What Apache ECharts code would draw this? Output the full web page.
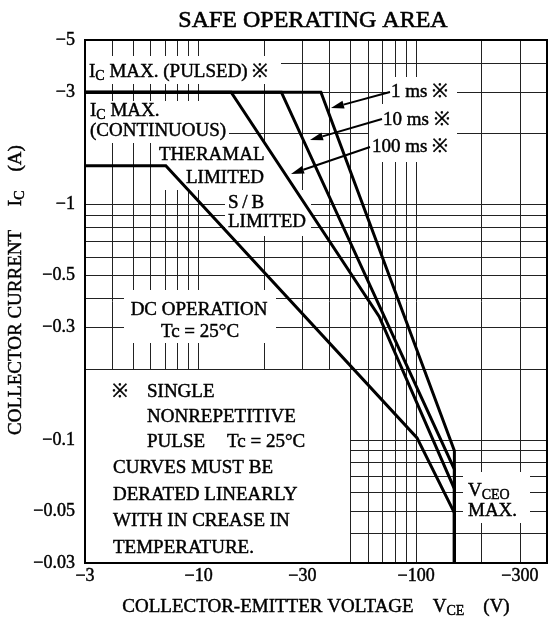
<!DOCTYPE html>
<html><head><meta charset="utf-8">
<script src="https://cdn.jsdelivr.net/npm/echarts@6/dist/echarts.min.js"></script>
<style>html,body{margin:0;padding:0;background:#fff}#c{width:549px;height:629px}</style>
</head><body><div id="c"></div>
<script>
// ---- data (VCE in volts, IC in amperes, magnitudes) ----
const xGridValues = [3,4,5,6,7,8,9,10,20,30,40,50,60,70,80,90,100,200,300,400];
const yGridValues = [0.03,0.04,0.05,0.06,0.07,0.08,0.09,0.1,0.2,0.3,0.4,0.5,0.6,0.7,0.8,0.9,1,2,3,4,5];
const xTickLabels = [3,10,30,100,300];
const yTickLabels = [0.03,0.05,0.1,0.3,0.5,1,3,5];

const vce1ms   = [3, 36.5, 150, 150];
const ic1ms    = [3, 3, 0.09, 0.03];
const vce10ms  = [3, 24, 150, 150];
const ic10ms   = [3, 3, 0.075, 0.03];
const vce100ms = [3, 14.1, 67.7, 150, 150];
const ic100ms  = [3, 3, 0.334, 0.062, 0.03];
const vceDC    = [3, 7.06, 101, 150, 150];
const icDC     = [1.46, 1.46, 0.102, 0.049, 0.03];

const F = '"Liberation Serif", "Times New Roman", serif';
const pairs = (xs, ys) => xs.map((v, i) => [v, ys[i]]);

const chart = echarts.init(document.getElementById('c'), null, {renderer: 'canvas'});

const SW = 0.45;
const R = {
  m: {fontSize: 19, fontFamily: F, fill: '#000', stroke: '#000', lineWidth: SW},
  s: {fontSize: 14, fontFamily: F, fill: '#000', stroke: '#000', lineWidth: SW, padding: [8, 0, 0, 0]}
};
function T(x, y, text, opt) {
  opt = opt || {};
  return {
    type: 'text', x: x, y: y, z: 3, silent: true, rotation: opt.rotation || 0,
    style: {
      text: text, fontSize: opt.size || 19, fontFamily: F, fill: '#000',
      stroke: '#000', lineWidth: opt.sw || SW,
      align: opt.align || 'left', verticalAlign: 'middle', rich: R
    }
  };
}
function M(x, y, w, h) {
  return {type: 'rect', z: 1, silent: true, shape: {x: x, y: y, width: w, height: h}, style: {fill: '#fff'}};
}
function A(x1, y1, x2, y2) {
  const dx = x2 - x1, dy = y2 - y1, d = Math.sqrt(dx * dx + dy * dy);
  const ux = dx / d, uy = dy / d, L = 13, W = 4;
  const bx = x2 - ux * L, by = y2 - uy * L;
  return [
    {type: 'line', z: 3, silent: true, shape: {x1: x1, y1: y1, x2: bx, y2: by}, style: {stroke: '#000', lineWidth: 2}},
    {type: 'polygon', z: 3, silent: true, shape: {points: [[x2, y2], [bx - uy * W, by + ux * W], [bx + uy * W, by - ux * W]]}, style: {fill: '#000'}}
  ];
}

const G = {left: 85, top: 40, width: 462, height: 523};

const graphics = [
  // white label backgrounds (hide grid lines behind annotations)
  M(85, 56, 196, 28),
  M(85, 101, 144, 42),
  M(155, 141, 112, 49),
  M(225, 190, 86, 46),
  M(389, 77, 68, 27),
  M(381, 104, 76, 27),
  M(369, 131, 88, 31),
  M(124, 290, 152, 53),
  M(85, 370, 265, 193),
  M(463, 472, 67, 51),
  // frame
  {type: 'rect', z: 4, silent: true, shape: {x: G.left, y: G.top, width: G.width, height: G.height},
   style: {fill: null, stroke: '#000', lineWidth: 2}},
  // title
  T(313, 21, 'SAFE OPERATING AREA', {size: 24, align: 'center', sw: 0.6}),
  // axis names
  T(316, 607, '{m|COLLECTOR-EMITTER VOLTAGE    V}{s|CE}{m|    (V)}', {align: 'center'}),
  T(16, 290, '{m|COLLECTOR CURRENT     I}{s|C}{m|    (A)}', {align: 'center', rotation: Math.PI / 2}),
  // annotations
  T(89, 72, '{m|I}{s|C}{m| MAX. (PULSED) ※}'),
  T(90, 111, '{m|I}{s|C}{m| MAX.}'),
  T(90, 131.5, '(CONTINUOUS)'),
  T(159, 155, 'THERAMAL'),
  T(186, 178, 'LIMITED'),
  T(228, 203, 'S\u2009/\u2009B'),
  T(228, 222, 'LIMITED'),
  T(391, 92, '1 ms ※'),
  T(383, 120, '10 ms ※'),
  T(372, 147, '100 ms ※'),
  T(199, 310, 'DC OPERATION', {align: 'center'}),
  T(200, 332, 'Tc = 25°C', {align: 'center'}),
  T(112, 392, '※'),
  T(147, 392, 'SINGLE'),
  T(147, 417, 'NONREPETITIVE'),
  T(147, 442, 'PULSE'),
  T(227, 442, 'Tc = 25°C'),
  T(113, 468, 'CURVES MUST BE'),
  T(113, 495, 'DERATED LINEARLY'),
  T(113, 521.5, 'WITH IN CREASE IN'),
  T(113, 548, 'TEMPERATURE.'),
  T(468, 491, '{m|V}{s|CEO}'),
  T(468, 511, 'MAX.')
].concat(A(390, 92, 331, 108), A(382, 119, 310, 140), A(370, 147, 291, 174));

function lineSeries(name, data) {
  return {
    name: name, type: 'line', data: data, symbol: 'none', showSymbol: false, z: 2,
    lineStyle: {color: '#000', width: 3, join: 'miter', cap: 'butt'}, silent: true
  };
}

const labelStyle = {fontFamily: F, fontSize: 18, color: '#000', textBorderColor: '#000', textBorderWidth: SW};

chart.setOption({
  animation: false,
  backgroundColor: '#fff',
  grid: G,
  xAxis: {
    type: 'log', logBase: 10, min: 3, max: 400,
    axisLine: {show: false},
    axisTick: {show: false, customValues: xGridValues},
    splitLine: {show: true, lineStyle: {color: '#222', width: 1}},
    axisLabel: Object.assign({customValues: xTickLabels, formatter: v => '\u2212' + v, margin: 4}, labelStyle)
  },
  yAxis: {
    type: 'log', logBase: 10, min: 0.03, max: 5,
    axisLine: {show: false},
    axisTick: {show: false, customValues: yGridValues},
    splitLine: {show: true, lineStyle: {color: '#222', width: 1}},
    axisLabel: Object.assign({customValues: yTickLabels, formatter: v => '\u2212' + v, margin: 10}, labelStyle)
  },
  series: [
    lineSeries('1 ms', pairs(vce1ms, ic1ms)),
    lineSeries('10 ms', pairs(vce10ms, ic10ms)),
    lineSeries('100 ms', pairs(vce100ms, ic100ms)),
    lineSeries('DC', pairs(vceDC, icDC))
  ],
  graphic: {elements: graphics}
});
</script>
</body></html>
